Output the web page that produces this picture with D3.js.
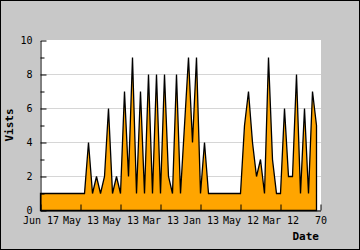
<!DOCTYPE html>
<html>
<head>
<meta charset="utf-8">
<script src="https://cdn.jsdelivr.net/npm/d3@7"></script>
<style>
  body { margin: 0; }
  svg { display: block; }
</style>
</head>
<body>
<div id="chart-area"></div>
<script>
// data, one value per day index
const visits = [1,1,1,1,1,1,1,1,1,1,
                1,1,4,1,2,1,2,6,1,2,
                1,7,2,9,1,7,1,8,1,8,
                1,8,2,1,8,1,5,9,4,9,
                1,4,1,1,1,1,1,1,1,1,
                1,5,7,4,2,3,1,9,3,1,
                1,6,2,2,8,1,6,1,7,5];
const dateLabels = ["Jun 17","May 13","May 13","Mar 13","Jan 13","May 12","Mar 12","70"];
const xTicks = [0,10,20,30,40,50,60,70];
const yMajor = [0,2,4,6,8,10];
const yMinor = [1,3,5,7,9];
const gridValues = [2,4,6,8];

const W = 360, H = 250;
const monoFont = "DejaVu Sans Mono";

const svg = d3.select("#chart-area")
  .append("svg")
    .attr("width", W)
    .attr("height", H);

// background + border
svg.append("rect")
  .attr("x", 0.5).attr("y", 0.5)
  .attr("width", W - 1).attr("height", H - 1)
  .attr("fill", "#c8c8c8")
  .attr("stroke", "#000");

// plot area
svg.append("rect")
  .attr("x", 40).attr("y", 40)
  .attr("width", 281).attr("height", 170)
  .attr("fill", "#fff");

const x = d3.scaleLinear().domain([0, 70]).range([40.5, 320.5]);
const y = d3.scaleLinear().domain([0, 10]).range([210.5, 40.5]);

// grid lines
svg.append("g")
  .selectAll("line")
  .data(gridValues)
  .join("line")
    .attr("x1", x(0)).attr("x2", 321)
    .attr("y1", d => y(d)).attr("y2", d => y(d))
    .attr("stroke", "#d6d6d6");

// area
const area = d3.area()
  .x((d, i) => x(i))
  .y0(y(0))
  .y1(d => y(d));

svg.append("path")
  .datum(visits)
  .attr("d", area)
  .attr("fill", "#ffa500")
  .attr("stroke", "#000")
  .attr("stroke-width", 1.3)
  .attr("stroke-linejoin", "miter");

// Y axis (ticks pointing in)
const yAxis = svg.append("g")
  .attr("transform", `translate(${x(0)},0)`)
  .call(d3.axisLeft(y).tickValues(yMajor).tickSize(-6).tickSizeOuter(0).tickPadding(8));

svg.append("g")
  .attr("transform", `translate(${x(0)},0)`)
  .call(d3.axisLeft(y).tickValues(yMinor).tickSize(-4).tickSizeOuter(0).tickFormat(""))
  .select(".domain").remove();

// X axis
const xAxis = svg.append("g")
  .attr("transform", `translate(0,${y(0)})`)
  .call(d3.axisBottom(x).tickValues(xTicks).tickSize(-6).tickSizeOuter(0).tickPadding(6.5)
    .tickFormat((d, i) => dateLabels[i]));

svg.selectAll(".tick text")
  .attr("font-family", monoFont)
  .attr("font-size", 10)
  .attr("fill", "#000");
yAxis.selectAll(".tick text").attr("dy", "0.3em");
svg.selectAll(".domain, .tick line").attr("stroke", "#000");

// axis titles
svg.append("text")
  .attr("x", 319)
  .attr("y", 239.5)
  .attr("text-anchor", "end")
  .attr("font-family", monoFont)
  .attr("font-weight", "bold")
  .attr("font-size", 11)
  .text("Date");

svg.append("text")
  .attr("transform", "translate(13,125)rotate(-90)")
  .attr("text-anchor", "middle")
  .attr("font-family", monoFont)
  .attr("font-weight", "bold")
  .attr("font-size", 11)
  .text("Vists");
</script>
</body>
</html>
